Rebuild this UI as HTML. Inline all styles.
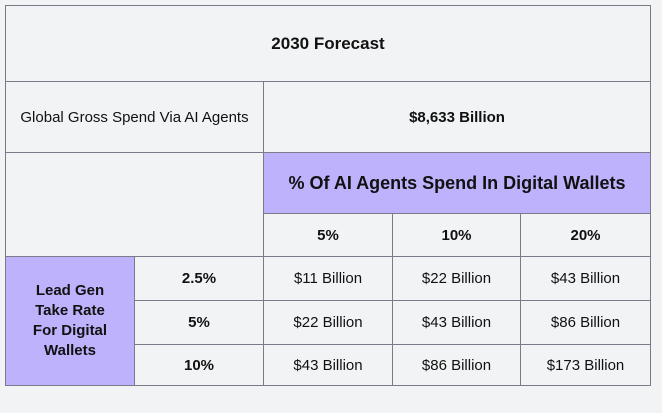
<!DOCTYPE html>
<html><head><meta charset="utf-8"><style>
body{margin:0;width:662px;height:413px;background:#f2f3f5;font-family:"Liberation Sans",sans-serif;position:relative;overflow:hidden}
.c{position:absolute;box-sizing:border-box;border:1px solid #7a7a88;display:flex;align-items:center;justify-content:center;text-align:center;color:#111;font-size:15px}
.b{font-weight:bold}
.p{background:#bdb2fb}
</style></head><body>
<div class="c b" style="left:5px;top:5px;width:646px;height:77px;font-size:17px">2030 Forecast</div>
<div class="c" style="left:5px;top:81px;width:259px;height:72px">Global Gross Spend Via AI Agents</div>
<div class="c b" style="left:263px;top:81px;width:388px;height:72px">$8,633 Billion</div>
<div class="c" style="left:5px;top:152px;width:259px;height:105px"></div>
<div class="c b p" style="left:263px;top:152px;width:388px;height:62px;font-size:18px">% Of AI Agents Spend In Digital Wallets</div>
<div class="c b" style="left:263px;top:213px;width:130px;height:44px">5%</div>
<div class="c b" style="left:392px;top:213px;width:129px;height:44px">10%</div>
<div class="c b" style="left:520px;top:213px;width:131px;height:44px">20%</div>
<div class="c b p" style="left:5px;top:256px;width:130px;height:130px;line-height:20px">Lead Gen<br>Take Rate<br>For Digital<br>Wallets</div>
<div class="c b" style="left:134px;top:256px;width:130px;height:45px">2.5%</div>
<div class="c b" style="left:134px;top:300px;width:130px;height:45px">5%</div>
<div class="c b" style="left:134px;top:344px;width:130px;height:42px">10%</div>
<div class="c" style="left:263px;top:256px;width:130px;height:45px">$11 Billion</div>
<div class="c" style="left:392px;top:256px;width:129px;height:45px">$22 Billion</div>
<div class="c" style="left:520px;top:256px;width:131px;height:45px">$43 Billion</div>
<div class="c" style="left:263px;top:300px;width:130px;height:45px">$22 Billion</div>
<div class="c" style="left:392px;top:300px;width:129px;height:45px">$43 Billion</div>
<div class="c" style="left:520px;top:300px;width:131px;height:45px">$86 Billion</div>
<div class="c" style="left:263px;top:344px;width:130px;height:42px">$43 Billion</div>
<div class="c" style="left:392px;top:344px;width:129px;height:42px">$86 Billion</div>
<div class="c" style="left:520px;top:344px;width:131px;height:42px">$173 Billion</div>
</body></html>
